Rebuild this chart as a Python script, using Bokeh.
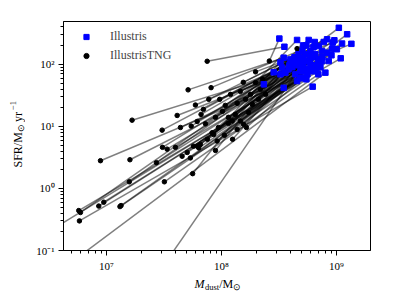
import math
from bokeh.plotting import figure
from bokeh.layouts import row, column
from bokeh.models import Range1d, FixedTicker, Label, Legend, LegendItem
from bokeh.embed import file_html
from bokeh.resources import INLINE

# IllustrisTNG (black dots): dust mass [Msun], SFR [Msun/yr]
tng_mdust = [1.67e7, 5.13e7, 7.52e7, 2.61e8, 4.55e8, 4.87e6, 2.67e7, 3.26e6,
             1.79e8, 2.42e8, 1.20e8, 1.46e8, 2.18e8, 8.13e7, 1.98e8, 1.55e8, 2.28e8, 1.98e8,
             5.82e6, 5.94e6, 5.74e6, 1.31e7, 8.57e6, 1.34e7, 9.48e6, 1.58e7, 3.19e7, 5.62e7,
             2.72e7, 8.87e6, 1.60e7, 5.37e7, 4.55e7, 5.04e7, 8.87e7, 3.37e7, 6.35e7, 3.07e7,
             3.98e7, 5.71e7, 6.15e7, 6.56e7, 9.18e7, 1.25e8, 7.55e7, 1.06e8, 8.57e7, 8.30e7,
             3.05e7, 1.37e8, 4.40e7, 9.42e7, 1.65e8, 5.46e7, 1.56e8, 7.26e7, 1.15e8, 6.15e7,
             1.24e8, 1.46e8, 1.15e8, 8.87e7, 4.12e7, 6.65e7, 1.32e8, 1.72e8, 1.02e8, 6.97e7,
             1.08e8, 5.94e7, 1.86e8, 1.37e8, 7.76e7, 9.66e7, 1.62e8, 2.10e8]
tng_sfr = [12.6, 38.8, 112, 113, 179, 0.063, 0.037, 0.21,
           32.8, 32.8, 32.8, 36.7, 39.5, 42.1, 50.7, 51.3, 57.3, 75.7,
           0.30, 0.41, 0.44, 0.51, 0.52, 0.53, 0.60, 1.28, 1.28, 1.73,
           2.6, 2.8, 2.9, 3.1, 3.3, 3.8, 4.1, 4.3, 4.5, 4.6,
           4.6, 4.8, 4.8, 5.1, 5.8, 6.2, 6.2, 7.2, 7.4, 7.9,
           8.7, 8.9, 9.6, 9.6, 9.6, 10.1, 10.8, 11.0, 11.2, 12.0,
           12.2, 12.2, 14.0, 14.0, 15.0, 15.6, 15.6, 16.8, 17.5, 18.8,
           21.8, 22.1, 22.6, 23.5, 27.3, 27.3, 27.3, 27.3]

# Illustris (blue squares), same galaxies in the same order
ill_mdust = [3.60e8, 3.48e8, 3.53e8, 3.19e8, 5.74e8, 8.02e8, 4.40e8, 3.48e8,
             1.05e9, 1.24e9, 1.35e9, 1.12e9, 9.60e8, 8.30e8, 4.55e8, 7.76e8, 6.48e8, 9.29e8,
             6.22e8, 2.34e8, 4.55e8, 5.48e8, 4.86e8, 5.04e8, 5.60e8, 3.26e8, 6.97e8, 2.85e8,
             4.86e8, 6.31e8, 5.27e8, 5.71e8, 3.83e8, 6.70e8, 3.37e8, 5.17e8, 7.26e8, 4.14e8,
             6.07e8, 6.56e8, 4.68e8, 3.90e8, 5.94e8, 4.86e8, 4.49e8, 7.02e8, 3.26e8, 5.37e8,
             4.14e8, 5.82e8, 7.26e8, 8.57e8, 7.51e8, 4.86e8, 6.97e8, 3.98e8, 1.09e9, 5.17e8,
             6.18e8, 5.94e8, 7.55e8, 4.32e8, 9.06e8, 5.37e8, 6.56e8, 4.68e8, 8.30e8, 5.94e8,
             5.06e8, 7.51e8, 1.01e9, 9.18e8, 6.31e8, 7.02e8, 5.13e8, 5.48e8]
ill_sfr = [73.5, 128, 192, 260, 247, 73.5, 69, 41.8,
           388, 305, 214, 216, 244, 253, 247, 229, 229, 224,
           43.7, 47.6, 53.8, 57.3, 59.5, 61, 69, 69, 69, 74.3,
           77.1, 77.1, 77.1, 83, 83, 83, 88.5, 89.5, 89.5, 89.5,
           89.5, 96.4, 96.4, 96.4, 100, 100, 104, 107, 108, 112,
           112, 112, 112, 113, 113, 120, 120, 120, 125, 125,
           130, 130, 130, 130, 140, 145, 145, 145, 154, 162,
           162, 164, 175, 179, 188, 197, 202, 202]

x_major = [1e6, 1e7, 1e8, 1e9]
x_labels = ["10\u2076", "10\u2077", "10\u2078", "10\u2079"]
y_major = [0.1, 1.0, 10.0, 100.0]
y_labels = ["10\u207b\u00b9", "10\u2070", "10\u00b9", "10\u00b2"]
series_names = ["Illustris", "IllustrisTNG"]

FONT = "Liberation Serif"


def minors(majors):
    return [m * k for m in majors + [majors[-1] * 10] for k in range(2, 10)]


def blank(width, height):
    f = figure(width=width, height=height, x_range=Range1d(0, 1), y_range=Range1d(0, 1),
               x_axis_location=None, y_axis_location=None, min_border=0,
               output_backend="svg", toolbar_location=None)
    f.grid.visible = False
    f.outline_line_color = None
    return f


p = figure(width=373, height=274, x_axis_type="log", y_axis_type="log",
           x_range=Range1d(4.23e6, 1.98e9), y_range=Range1d(0.1, 490),
           output_backend="svg", toolbar_location=None,
           min_border_left=38, min_border_right=28, min_border_top=21, min_border_bottom=24)
p.grid.visible = False
p.outline_line_color = "black"
p.outline_line_width = 1
p.outline_line_alpha = 1

p.xaxis.ticker = FixedTicker(ticks=x_major, minor_ticks=minors(x_major))
p.yaxis.ticker = FixedTicker(ticks=y_major, minor_ticks=minors(y_major))
p.xaxis.major_label_overrides = dict(zip(x_major, x_labels))
p.yaxis.major_label_overrides = dict(zip(y_major, y_labels))
for ax in (p.xaxis, p.yaxis):
    ax.axis_line_color = "black"
    ax.major_tick_line_color = "black"
    ax.minor_tick_line_color = "black"
    ax.major_tick_in = 0
    ax.major_tick_out = 5
    ax.minor_tick_in = 0
    ax.minor_tick_out = 3
    ax.major_label_text_font = FONT
    ax.major_label_text_font_size = "11px"
    ax.major_label_text_color = "black"
    ax.major_label_standoff = 4

p.segment(x0=tng_mdust, y0=tng_sfr, x1=ill_mdust, y1=ill_sfr,
          line_color="black", line_alpha=0.5, line_width=1.5)
r_tng = p.scatter(tng_mdust, tng_sfr, marker="circle", size=4.5, color="black")
r_ill = p.scatter(ill_mdust, ill_sfr, marker="square", size=5.5, color="blue")

legend = Legend(items=[LegendItem(label=series_names[0], renderers=[r_ill]),
                       LegendItem(label=series_names[1], renderers=[r_tng])],
                location="top_left", border_line_alpha=0, background_fill_alpha=0,
                padding=4, margin=4, glyph_width=30, glyph_height=13, label_height=13,
                label_standoff=9, spacing=4, label_text_font=FONT, label_text_font_size="12px")
p.add_layout(legend)

# x-axis title strip below the plot (its frame lines up with the plot frame)
xlab = blank(373, 25)
for t, x, y, fs, st in [("M", 131, 16, "12px", "italic"), ("dust", 141.5, 13, "8.5px", "normal"),
                        ("/M", 155.7, 16, "12px", "normal"), ("\u2299", 169.7, 13, "8.5px", "normal")]:
    xlab.add_layout(Label(x=x, y=y, x_units="screen", y_units="screen", text=t,
                          text_font=FONT, text_font_size=fs, text_font_style=st,
                          text_baseline="alphabetic", text_align="left", text_color="black"))

# y-axis title strip left of the plot
ylab = blank(25, 299)
for t, x, y, fs in [("SFR/M", 17, 132, "12px"), ("\u2299", 20, 167.4, "8.5px"),
                    ("yr", 17, 177.5, "12px"), ("\u22121", 12, 189.5, "8.5px")]:
    ylab.add_layout(Label(x=x, y=y, x_units="screen", y_units="screen", text=t, angle=math.pi / 2,
                          text_font=FONT, text_font_size=fs,
                          text_baseline="alphabetic", text_align="left", text_color="black"))

layout = row(ylab, column(p, xlab))
open("out.html", "w").write(file_html(layout, INLINE))
